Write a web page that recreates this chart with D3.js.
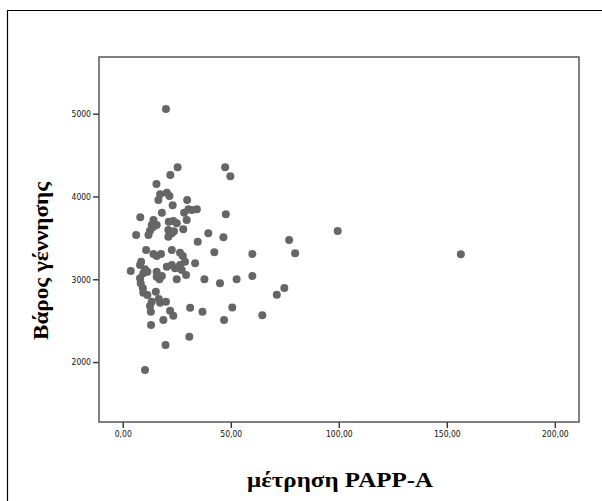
<!DOCTYPE html>
<html>
<head>
<meta charset="utf-8">
<script src="https://cdn.jsdelivr.net/npm/d3@7"></script>
<style>
  body { margin: 0; background: #fff; }
</style>
</head>
<body>
<div id="chart"></div>
<script>
// PAPP-A (x) vs birth weight (y)
const pappA = [
  20.0, 25.4, 22.0, 15.6, 47.4, 49.8, 17.3, 20.4, 21.6, 16.5,
  23.1, 18.1, 29.8, 28.4, 30.4, 31.9, 34.3, 8.1, 14.2, 13.4,
  21.3, 23.4, 25.0, 29.6, 47.7, 21.1, 23.7, 28.0, 6.2, 11.9,
  12.6, 13.9, 15.7, 21.1, 22.7, 34.7, 39.6, 46.6, 77.0, 99.5,
  42.4, 60.0, 79.8, 156.5, 10.8, 14.2, 15.7, 17.7, 22.7, 26.5,
  27.8, 28.8, 8.5, 8.0, 3.7, 10.3, 11.4, 9.5, 15.7, 20.4,
  22.7, 24.2, 26.5, 27.3, 29.3, 17.0, 18.1, 25.0, 33.5, 37.8,
  45.0, 52.7, 60.0, 8.0, 8.3, 9.3, 9.5, 15.3, 11.4, 16.7,
  20.0, 13.4, 12.6, 13.0, 21.9, 23.4, 31.2, 36.9, 50.7, 18.8,
  46.9, 13.1, 30.8, 19.8, 10.3, 64.6, 74.8, 71.3, 17.3, 15.7
];
const birthWeight = [
  5057, 4353, 4260, 4151, 4353, 4244, 4027, 4046, 4006, 3958,
  3894, 3805, 3958, 3805, 3846, 3837, 3846, 3749, 3716, 3656,
  3696, 3704, 3676, 3716, 3785, 3596, 3580, 3604, 3535, 3535,
  3587, 3628, 3656, 3515, 3556, 3454, 3556, 3507, 3475, 3583,
  3326, 3306, 3314, 3302, 3354, 3306, 3281, 3306, 3354, 3321,
  3281, 3213, 3213, 3173, 3100, 3121, 3092, 3072, 3092, 3152,
  3173, 3133, 3173, 3112, 3052, 3000, 3040, 3000, 3193, 3000,
  2952, 3000, 3040, 3012, 2952, 2891, 2838, 2850, 2810, 2762,
  2730, 2730, 2677, 2609, 2621, 2560, 2657, 2609, 2660, 2508,
  2508, 2448, 2307, 2206, 1904, 2565, 2895, 2814, 2717, 3031
];
const xTicks = [0, 50, 100, 150, 200];
const yTicks = [2000, 3000, 4000, 5000];
const xTitle = "μέτρηση PAPP-A";
const yTitle = "Βάρος γέννησης";

const width = 602, height = 501;
const box = { left: 99, top: 57, right: 579, bottom: 422 };

const svg = d3.select("#chart")
  .append("svg")
  .attr("width", width)
  .attr("height", height);

// outer frame (runs off the right and bottom edges)
svg.append("path")
  .attr("d", `M7.5,${height + 5}V10.5H${width + 5}`)
  .attr("fill", "none")
  .attr("stroke", "#000")
  .attr("stroke-width", 1.2);

const x = d3.scaleLinear().domain([-11, 211.2]).range([box.left, box.right]);
const y = d3.scaleLinear().domain([1276, 5685]).range([box.bottom, box.top]);

const fmtX = d => d3.format(".2f")(d).replace(".", ",");

const xAxis = svg.append("g")
  .attr("transform", `translate(0,${box.bottom})`)
  .call(d3.axisBottom(x).tickValues(xTicks).tickFormat(fmtX).tickSize(6).tickPadding(3));
const yAxis = svg.append("g")
  .attr("transform", `translate(${box.left},0)`)
  .call(d3.axisLeft(y).tickValues(yTicks).tickFormat(d3.format("d")).tickSize(6).tickPadding(2));

[xAxis, yAxis].forEach(g => {
  g.select(".domain").remove();
  g.selectAll(".tick line").attr("stroke", "#333").attr("stroke-width", 1.4);
  g.selectAll(".tick text")
    .attr("fill", "#111")
    .style("font-family", "'DejaVu Sans Condensed', 'Liberation Sans', sans-serif")
    .style("font-size", "8.5px");
});

// plot frame
svg.append("rect")
  .attr("x", box.left)
  .attr("y", box.top)
  .attr("width", box.right - box.left)
  .attr("height", box.bottom - box.top)
  .attr("fill", "none")
  .attr("stroke", "#4a4a4a")
  .attr("stroke-width", 1.4);

svg.append("g")
  .selectAll("circle")
  .data(d3.zip(pappA, birthWeight))
  .enter().append("circle")
    .attr("cx", d => x(d[0]))
    .attr("cy", d => y(d[1]))
    .attr("r", 4)
    .attr("fill", "#666");

svg.append("text")
  .attr("x", 340)
  .attr("y", 487)
  .attr("text-anchor", "middle")
  .attr("textLength", 186)
  .attr("lengthAdjust", "spacingAndGlyphs")
  .style("font-family", "'Liberation Serif', 'Times New Roman', serif")
  .style("font-weight", "bold")
  .style("font-size", "20px")
  .text(xTitle);

svg.append("text")
  .attr("transform", "translate(48,261) rotate(-90)")
  .attr("text-anchor", "middle")
  .attr("textLength", 158)
  .attr("lengthAdjust", "spacingAndGlyphs")
  .style("font-family", "'Liberation Serif', 'Times New Roman', serif")
  .style("font-weight", "bold")
  .style("font-size", "20px")
  .text(yTitle);
</script>
</body>
</html>
